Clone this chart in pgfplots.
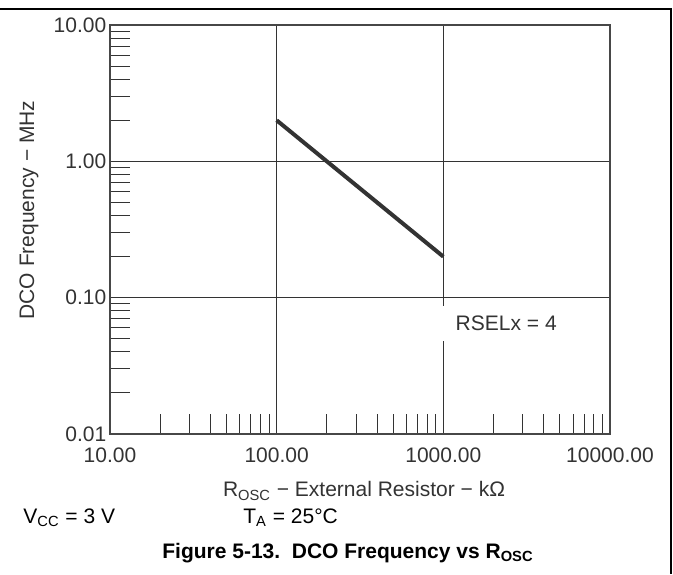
\documentclass[border=0pt]{standalone}
\usepackage{fontspec}
\setmainfont{Liberation Sans}
\usepackage{pgfplots}
\pgfplotsset{compat=1.18}

\definecolor{ink}{HTML}{333333}

\begin{document}
\fontsize{10.5}{12.6}\selectfont
\begin{tikzpicture}[every node/.style={font=\fontsize{10.5}{12.6}\selectfont}]
\useasboundingbox (0,0) rectangle (336.5pt,287pt);

\begin{axis}[
  scale only axis,
  width=250pt, height=204.5pt,
  at={(55pt,70pt)}, anchor=south west,
  xmode=log, ymode=log,
  xmin=10, xmax=10000,
  ymin=0.01, ymax=10,
  xtick={10,100,1000,10000},
  xticklabels={10.00,100.00,1000.00,10000.00},
  ytick={0.01,0.1,1,10},
  yticklabels={0.01,0.10,1.00,10.00},
  minor xtick={20,30,40,50,60,70,80,90,200,300,400,500,600,700,800,900,2000,3000,4000,5000,6000,7000,8000,9000},
  minor ytick={0.02,0.03,0.04,0.05,0.06,0.07,0.08,0.09,0.2,0.3,0.4,0.5,0.6,0.7,0.8,0.9,2,3,4,5,6,7,8,9},
  xtick pos=left, ytick pos=left,
  tick align=inside,
  major tick length=0pt,
  minor tick length=10pt,
  grid=major,
  major grid style={ink, line width=0.5pt},
  minor tick style={ink, line width=0.5pt},
  axis line style={ink!90!white, line width=1pt},
  tick label style={font=\fontsize{10.5}{12.6}\selectfont, text=ink},
  xticklabel style={yshift=-3.4pt},
  yticklabel style={xshift=1.8pt},
]
\addplot [ink, line width=2pt] coordinates {
(100,2)
(1000,0.2)
};
\node [anchor=west, fill=white, xshift=-2pt, inner xsep=8pt, inner ysep=5pt,
       text height=7.5pt, text depth=0pt, text=ink] at (axis cs:1000,0.065) {RSELx = 4};
\end{axis}

% outer frame
\draw [black, line width=0.7pt] (0,282.5pt) -- (335.5pt,282.5pt) -- (335.5pt,0);

\node [rotate=90, text=ink] at (14.5pt,182pt) {DCO Frequency − MHz};
\node [text=ink] at (182pt,41.5pt) {R\textsubscript{OSC} − External Resistor − kΩ};
\node [anchor=west, inner sep=0pt, text=black] at (11.5pt,28pt) {V\textsubscript{CC} = 3 V};
\node [anchor=west, inner sep=0pt, text=black] at (121.5pt,28pt) {T\textsubscript{A} = 25°C};
\node [text=black] at (174pt,10.5pt) {\textbf{Figure 5-13.\ \ DCO Frequency vs R\textsubscript{OSC}}};
\end{tikzpicture}
\end{document}
